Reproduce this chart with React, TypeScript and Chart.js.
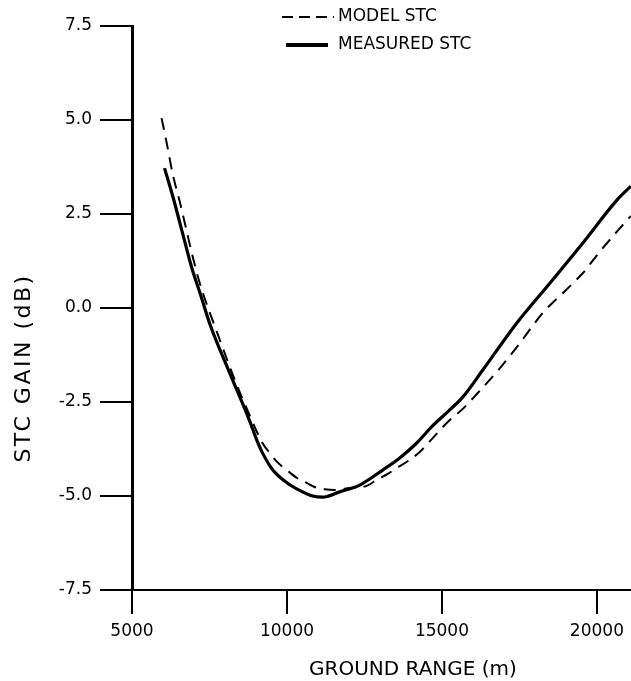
import React, { useEffect, useRef } from "react";
import { Chart, registerables } from "chart.js";

Chart.register(...registerables);

// ---- data ----
const xTickValues = [5000, 10000, 15000, 20000];
const yTickValues = [-7.5, -5, -2.5, 0, 2.5, 5, 7.5];

const seriesLabels = ["MODEL STC", "MEASURED STC"];

const modelRange = [
  5953, 6049, 6146, 6308, 6534, 6727, 6921, 7147, 7406, 7719, 8310, 8794, 9214,
  9440, 9666, 10021, 10344, 10635, 10893, 11216, 11539, 12023, 12572, 12895,
  13250, 13541, 13960, 14283, 14703, 15252, 15640, 16156, 16770, 17416, 18255,
  19030, 19547, 20096, 20645, 21097,
];
const modelGain = [
  5.05, 4.68, 4.28, 3.58, 2.85, 2.18, 1.49, 0.77, 0.11, -0.59, -1.9, -2.85,
  -3.6, -3.85, -4.08, -4.33, -4.53, -4.65, -4.76, -4.82, -4.84, -4.79, -4.73,
  -4.57, -4.41, -4.26, -4.04, -3.83, -3.46, -2.98, -2.71, -2.26, -1.7, -1.04,
  -0.13, 0.5, 0.93, 1.5, 2.03, 2.45,
];

const measuredRange = [
  6049, 6340, 6631, 6921, 7212, 7535, 8148, 8794, 9020, 9214, 9537, 9989,
  10409, 10829, 11151, 11700, 12346, 13089, 13638, 14187, 14703, 15252, 15672,
  16318, 17416, 18481, 19547, 20645, 21097,
];
const measuredGain = [
  3.72, 2.9, 1.99, 1.09, 0.35, -0.48, -1.72, -3.0, -3.5, -3.86, -4.3,
  -4.64, -4.85, -5.0, -5.03, -4.89, -4.71, -4.31, -3.99, -3.59, -3.13, -2.71,
  -2.37, -1.65, -0.4, 0.66, 1.73, 2.87, 3.24,
];

const xTitle = "GROUND RANGE (m)";
const yTitle = "STC GAIN (dB)";

const FONT = '"DejaVu Sans", sans-serif';

const toPoints = (xs: number[], ys: number[]) =>
  xs.map((x, i) => ({ x, y: ys[i] }));

const decorPlugin = {
  id: "decor",
  afterDraw(chart: any) {
    const ctx = chart.ctx as CanvasRenderingContext2D;
    ctx.save();
    ctx.fillStyle = "#000";
    ctx.strokeStyle = "#000";
    // x axis title
    ctx.font = `20px ${FONT}`;
    ctx.textAlign = "center";
    ctx.textBaseline = "middle";
    ctx.fillText(xTitle, 413, 670);
    // y axis title
    ctx.save();
    ctx.translate(24, 368);
    ctx.rotate(-Math.PI / 2);
    ctx.font = `22px ${FONT}`;
    try {
      (ctx as any).letterSpacing = "2.5px";
    } catch (e) {}
    ctx.fillText(yTitle, 0, 0);
    ctx.restore();

    // legend
    const ds = chart.data.datasets;
    const rows = [
      { y: 17, x0: 282, x1: 334 },
      { y: 45, x0: 286, x1: 328 },
    ];
    ds.forEach((d: any, i: number) => {
      const r = rows[i];
      ctx.save();
      ctx.beginPath();
      ctx.lineWidth = i === 0 ? 2 : 4;
      ctx.setLineDash(i === 0 ? [11, 6] : []);
      ctx.moveTo(r.x0, r.y);
      ctx.lineTo(r.x1, r.y);
      ctx.stroke();
      ctx.restore();
      ctx.font = `17px ${FONT}`;
      ctx.textAlign = "left";
      ctx.textBaseline = "middle";
      ctx.fillText(d.label, 338, r.y);
    });
    ctx.restore();
  },
};

export default function App() {
  const ref = useRef<HTMLCanvasElement | null>(null);

  useEffect(() => {
    if (!ref.current) return;
    Chart.defaults.font.family = FONT;
    const chart = new Chart(ref.current, {
      type: "line",
      data: {
        datasets: [
          {
            label: seriesLabels[0],
            data: toPoints(modelRange, modelGain),
            borderColor: "#000",
            borderWidth: 2,
            borderDash: [12, 8],
            pointRadius: 0,
            cubicInterpolationMode: "monotone",
            fill: false,
          },
          {
            label: seriesLabels[1],
            data: toPoints(measuredRange, measuredGain),
            borderColor: "#000",
            borderWidth: 3.2,
            pointRadius: 0,
            cubicInterpolationMode: "monotone",
            fill: false,
          },
        ],
      },
      options: {
        animation: false,
        responsive: false,
        devicePixelRatio: 1,
        layout: { padding: { top: 26, right: 0, bottom: 0, left: 0 } },
        plugins: {
          legend: { display: false },
          tooltip: { enabled: false },
          title: { display: false },
        },
        scales: {
          x: {
            type: "linear",
            min: 5000,
            max: 21100,
            afterBuildTicks: (scale: any) => {
              scale.ticks = xTickValues.map((v) => ({ value: v }));
            },
            afterFit: (scale: any) => {
              scale.height = 91;
              scale.paddingLeft = 0;
              scale.paddingRight = 0;
            },
            ticks: {
              color: "#000",
              font: { size: 17, family: FONT },
              padding: 7,
              maxRotation: 0,
              autoSkip: false,
              callback: (v: any) => String(v),
            },
            grid: {
              display: true,
              drawOnChartArea: false,
              drawTicks: true,
              tickLength: 24,
              color: "#000",
              lineWidth: 2,
            },
            border: { display: true, color: "#000", width: 2 },
          },
          y: {
            type: "linear",
            min: -7.5,
            max: 7.5,
            afterBuildTicks: (scale: any) => {
              scale.ticks = yTickValues.map((v) => ({ value: v }));
            },
            afterFit: (scale: any) => {
              scale.width = 132;
              scale.paddingTop = 0;
              scale.paddingBottom = 0;
            },
            ticks: {
              color: "#000",
              font: { size: 17, family: FONT },
              padding: 8,
              autoSkip: false,
              callback: (v: any) => Number(v).toFixed(1),
            },
            grid: {
              display: true,
              drawOnChartArea: false,
              drawTicks: true,
              tickLength: 32,
              color: "#000",
              lineWidth: 2,
            },
            border: { display: true, color: "#000", width: 3 },
          },
        },
      },
      plugins: [decorPlugin],
    } as any);
    return () => chart.destroy();
  }, []);

  return (
    <div
      style={{
        position: "absolute",
        left: 0,
        top: 0,
        width: 631,
        height: 681,
        background: "#fff",
      }}
    >
      <canvas ref={ref} width={631} height={681} />
    </div>
  );
}
